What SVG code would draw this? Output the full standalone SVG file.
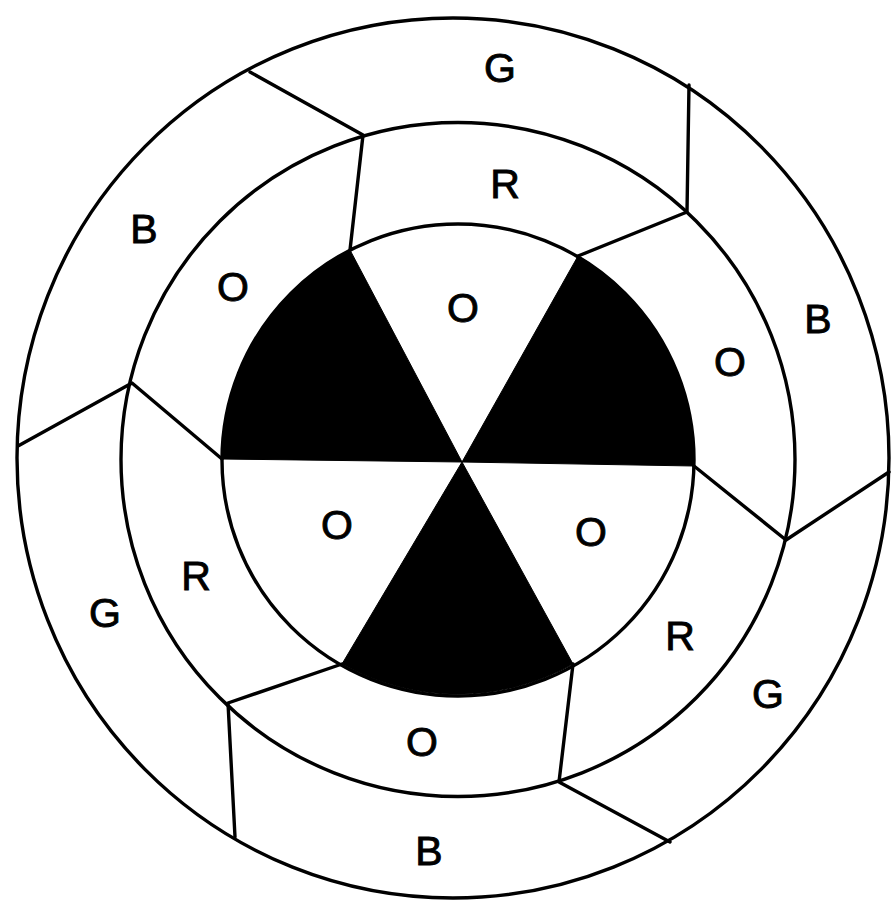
<svg xmlns="http://www.w3.org/2000/svg" width="894" height="901" viewBox="0 0 894 901">
<style>
.ln{fill:none;stroke:#000;stroke-width:3.4;stroke-linejoin:round;stroke-linecap:round}
.blk{fill:#000;stroke:#000;stroke-width:1}
.lbl{font-family:"Liberation Sans",Arial,sans-serif;font-size:41px;fill:#000;stroke:#000;stroke-width:0.9;text-anchor:middle}
</style>
<rect width="894" height="901" fill="#fff"/>
<g id="rings">
<ellipse class="ln" cx="453" cy="458" rx="436" ry="440"/>
<circle class="ln" cx="458" cy="459.5" r="337"/>
<circle class="ln" cx="458" cy="460" r="236"/>
</g>
<g id="inner-sectors">
<path id="black-upper-left" class="blk" d="M462,462 L222,459 A236,236 0 0 1 350,250 Z"/>
<path id="black-upper-right" class="blk" d="M462,462 L578,256 A236,236 0 0 1 694,466 Z"/>
<path id="black-bottom" class="blk" d="M462,462 L573,664 A236,236 0 0 1 342,664 Z"/>
<g id="inner-o-top"><text class="lbl" x="463" y="322">O</text></g>
<g id="inner-o-left"><text class="lbl" x="337" y="539">O</text></g>
<g id="inner-o-right"><text class="lbl" x="591" y="546">O</text></g>
</g>
<g id="connectors">
<path class="ln" d="M350,250 L363,135 L250,72"/>
<path class="ln" d="M578,256 L687,212 L689,85"/>
<path class="ln" d="M694,466 L786,540 L889,472"/>
<path class="ln" d="M573,664 L559,782 L670,842"/>
<path class="ln" d="M342,664 L228,703 L235,837"/>
<path class="ln" d="M222,459 L132,383 L18,446"/>
</g>
<g id="middle-ring">
<g id="mid-r-top"><text class="lbl" x="505" y="198">R</text></g>
<g id="mid-o-right"><text class="lbl" x="730" y="376">O</text></g>
<g id="mid-r-lower-right"><text class="lbl" x="680" y="650">R</text></g>
<g id="mid-o-bottom"><text class="lbl" x="422" y="756">O</text></g>
<g id="mid-r-left"><text class="lbl" x="196" y="590">R</text></g>
<g id="mid-o-upper-left"><text class="lbl" x="233" y="301">O</text></g>
</g>
<g id="outer-ring">
<g id="out-g-top"><text class="lbl" x="500" y="82">G</text></g>
<g id="out-b-right"><text class="lbl" x="818" y="333">B</text></g>
<g id="out-g-lower-right"><text class="lbl" x="768" y="708">G</text></g>
<g id="out-b-bottom"><text class="lbl" x="429" y="865">B</text></g>
<g id="out-g-left"><text class="lbl" x="105" y="627">G</text></g>
<g id="out-b-upper-left"><text class="lbl" x="144" y="243">B</text></g>
</g>
</svg>
